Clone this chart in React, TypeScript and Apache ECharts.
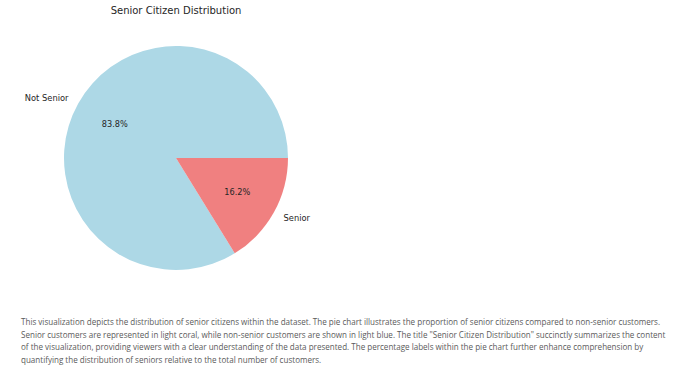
import React, { useEffect, useRef, useMemo } from "react";
import * as echarts from "echarts";

const categories = ["Not Senior", "Senior"];
const counts = [5901, 1142];
const sliceColors = ["#ADD8E6", "#F08080"];
const titleText = "Senior Citizen Distribution";
const paragraphLines = [
  "This visualization depicts the distribution of senior citizens within the dataset. The pie chart illustrates the proportion of senior citizens compared to non-senior customers.",
  "Senior customers are represented in light coral, while non-senior customers are shown in light blue. The title \"Senior Citizen Distribution\" succinctly summarizes the content",
  "of the visualization, providing viewers with a clear understanding of the data presented. The percentage labels within the pie chart further enhance comprehension by",
  "quantifying the distribution of seniors relative to the total number of customers.",
];

const CX = 176;
const CY = 158;
const R = 112;
const PARA_FONT = "Open Sans";
const PARA_SIZE = 8.6;
const PARA_TARGET_W = 639;

export default function App() {
  const ref = useRef<HTMLDivElement>(null);

  const scaleX = useMemo(() => {
    try {
      const c = document.createElement("canvas");
      const ctx = c.getContext("2d");
      if (!ctx) return 1;
      ctx.font = `${PARA_SIZE}px "${PARA_FONT}"`;
      const w = ctx.measureText(paragraphLines[0]).width;
      return w > 0 ? PARA_TARGET_W / w : 1;
    } catch (e) {
      return 1;
    }
  }, []);

  useEffect(() => {
    if (!ref.current) return;
    const chart = echarts.init(ref.current, null, { renderer: "svg" });
    const total = counts.reduce((a, b) => a + b, 0);
    const data = categories.map((name, i) => ({
      name,
      value: counts[i],
      itemStyle: { color: sliceColors[i] },
    }));
    const pctData = categories.map((name, i) => ({
      name,
      value: counts[i],
      pct: ((counts[i] / total) * 100).toFixed(1) + "%",
    }));
    chart.setOption({
      animation: false,
      backgroundColor: "#ffffff",
      graphic: [
        {
          type: "text",
          x: CX,
          y: 10,
          style: {
            text: titleText,
            align: "center",
            verticalAlign: "middle",
            fontFamily: "DejaVu Sans",
            fontSize: 10,
            fill: "#262626",
          },
        },
      ],
      series: [
        {
          type: "pie",
          center: [CX, CY],
          radius: [0, R],
          startAngle: 0,
          clockwise: false,
          avoidLabelOverlap: false,
          silent: true,
          data,
          itemStyle: { borderWidth: 0 },
          label: {
            show: true,
            position: "outside",
            formatter: "{b}",
            fontFamily: "DejaVu Sans",
            fontSize: 8.3,
            color: "#262626",
            distanceToLabelLine: 0,
          },
          labelLine: { show: false, length: R * 0.1, length2: 0 },
        },
        {
          type: "pie",
          center: [CX, CY],
          radius: [R * 0.6 - 6, R * 0.6 + 6],
          startAngle: 0,
          clockwise: false,
          avoidLabelOverlap: false,
          silent: true,
          data: pctData,
          itemStyle: { color: "rgba(0,0,0,0)", borderWidth: 0 },
          label: {
            show: true,
            position: "inside",
            formatter: (p: any) => p.data.pct,
            fontFamily: "DejaVu Sans",
            fontSize: 8.2,
            color: "#262626",
          },
          labelLine: { show: false },
        },
      ],
    });
    return () => chart.dispose();
  }, []);

  return (
    <div
      style={{
        position: "absolute",
        left: 0,
        top: 0,
        width: 680,
        height: 376,
        background: "#ffffff",
        overflow: "hidden",
      }}
    >
      <div ref={ref} style={{ position: "absolute", left: 0, top: 0, width: 680, height: 290 }} />
      {paragraphLines.map((line, i) => (
        <div
          key={i}
          style={{
            position: "absolute",
            left: 21,
            top: 322 + i * 12.5,
            transform: `translateY(-50%) scaleX(${scaleX})`,
            transformOrigin: "left center",
            whiteSpace: "nowrap",
            fontFamily: `"${PARA_FONT}", sans-serif`,
            fontSize: PARA_SIZE,
            lineHeight: "12px",
            color: "#5a5a5a",
          }}
        >
          {line}
        </div>
      ))}
    </div>
  );
}
